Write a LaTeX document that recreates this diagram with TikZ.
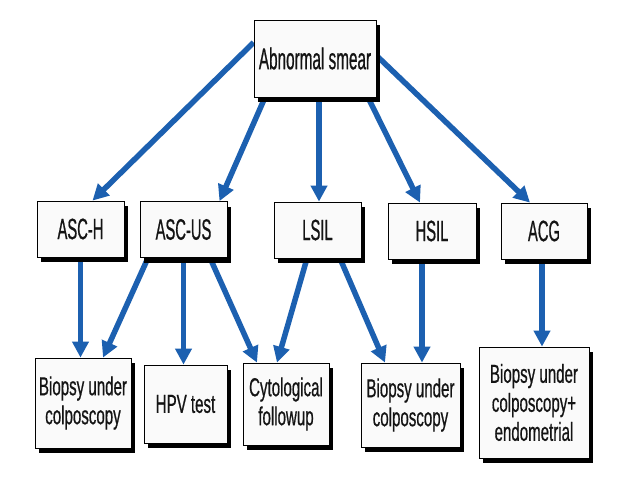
\documentclass[tikz,border=0pt]{standalone}
\usepackage{fontspec}
\setmainfont{Liberation Sans}
\newfontfamily\topfont{Liberation Sans}[FakeStretch=0.51, FakeBold=0.6]
\newfontfamily\midfont{Liberation Sans}[FakeStretch=0.5, FakeBold=0.6]
\newfontfamily\lowfont{Liberation Sans}[FakeStretch=0.58, FakeBold=0.6]
\usetikzlibrary{arrows.meta,shadows,calc}
\pgfdeclarelayer{background}
\pgfsetlayers{background,main}
\definecolor{arrowblue}{RGB}{28,96,176}
\definecolor{boxfill}{RGB}{250,250,250}
\definecolor{inktext}{RGB}{20,20,20}
\tikzset{
  flowbox/.style={draw=black, line width=0.8pt, fill=boxfill, inner sep=0pt,
    align=center, text=inktext,
    drop shadow={shadow xshift=3.5pt, shadow yshift=-5pt, fill=black, opacity=1}},
  topbox/.style={flowbox, font=\topfont\fontsize{30}{30}\selectfont},
  midbox/.style={flowbox, font=\midfont\fontsize{29.5}{30}\selectfont},
  lowbox/.style={flowbox, font=\lowfont\fontsize{26}{29}\selectfont},
  flowarrow/.style={draw=arrowblue, line width=5.5pt,
    -{Triangle[length=16pt,width=16pt]}}
}
\begin{document}
\begin{tikzpicture}[x=1pt,y=-1pt]
\useasboundingbox (0,0) rectangle (638,479);
% top
\node[topbox, minimum width=122pt, minimum height=77pt] (top) at (315,58.5) {Abnormal smear};
% middle row
\node[midbox, minimum width=87pt, minimum height=56pt] (asch) at (80.5,229) {ASC-H};
\node[midbox, minimum width=87pt, minimum height=56pt] (ascus) at (183.5,229.5) {ASC-US};
\node[midbox, minimum width=87pt, minimum height=56pt] (lsil) at (317.5,230) {LSIL};
\node[midbox, minimum width=88pt, minimum height=56pt] (hsil) at (432,231) {HSIL};
\node[midbox, minimum width=86pt, minimum height=56pt] (acg) at (544,231) {ACG};
% bottom row
\node[lowbox, minimum width=96pt, minimum height=90pt] (b1) at (83,403) {Biopsy under\\colposcopy};
\node[lowbox, minimum width=83pt, minimum height=78pt] (hpv) at (185.5,404) {HPV test};
\node[lowbox, minimum width=86pt, minimum height=82pt] (cyto) at (286,404) {Cytological\\followup};
\node[lowbox, minimum width=99pt, minimum height=84pt] (b2) at (410.5,405) {Biopsy under\\colposcopy};
\node[lowbox, minimum width=110pt, minimum height=111pt] (b3) at (534,402.5) {Biopsy under\\colposcopy+\\endometrial};
\begin{pgfonlayer}{background}
\fill[white] (0,0) rectangle (638,479);
\draw[flowarrow] ([yshift=16pt]top.west) -- ([xshift=12pt]asch.north);
\draw[flowarrow] ([xshift=-50pt]top.south) -- ([xshift=36pt]ascus.north);
\draw[flowarrow] ([xshift=4pt]top.south) -- ([xshift=1.5pt]lsil.north);
\draw[flowarrow] ([xshift=53pt]top.south) -- ([xshift=-12pt]hsil.north);
\draw[flowarrow] ([yshift=3pt]top.east) -- ([xshift=-14pt]acg.north);
\draw[flowarrow] (asch.south) -- ([xshift=-2.5pt]b1.north);
\draw[flowarrow] ([xshift=-35.5pt]ascus.south) -- ([xshift=20pt]b1.north);
\draw[flowarrow] (ascus.south) -- ([xshift=-2pt]hpv.north);
\draw[flowarrow] ([xshift=26.5pt]ascus.south) -- ([xshift=-29pt]cyto.north);
\draw[flowarrow] ([xshift=-10.5pt]lsil.south) -- ([xshift=-9pt]cyto.north);
\draw[flowarrow] ([xshift=22.5pt]lsil.south) -- ([xshift=-25.5pt]b2.north);
\draw[flowarrow] ([xshift=-10pt]hsil.south) -- ([xshift=11.5pt]b2.north);
\draw[flowarrow] ([xshift=-2pt]acg.south) -- ([xshift=8pt]b3.north);
\end{pgfonlayer}
\end{tikzpicture}
\end{document}
